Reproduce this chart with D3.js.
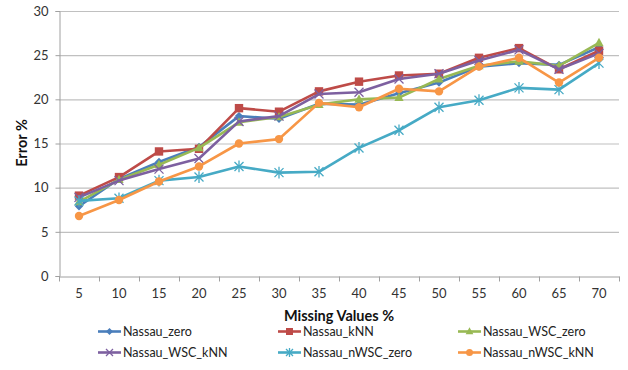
<!DOCTYPE html>
<html><head><meta charset="utf-8">
<script src="https://cdn.jsdelivr.net/npm/d3@7"></script>
<style>body{margin:0;background:#fff}svg{display:block}text{font-family:Lato,"Liberation Sans",sans-serif}</style>
</head><body><svg id="c" width="628" height="370"></svg>
<script>
const categories = [5,10,15,20,25,30,35,40,45,50,55,60,65,70];
const yTicks = [0,5,10,15,20,25,30];
const seriesNames = ["Nassau_zero","Nassau_kNN","Nassau_WSC_zero","Nassau_WSC_kNN","Nassau_nWSC_zero","Nassau_nWSC_kNN"];
const nassauZero    = [7.9,11.0,12.9,14.6,18.1,17.8,19.5,19.4,20.7,21.9,23.7,24.1,23.9,25.9];
const nassauKNN     = [9.1,11.2,14.1,14.4,19.0,18.6,20.9,22.0,22.7,22.9,24.7,25.8,23.4,25.5];
const nassauWSCZero = [8.4,10.9,12.6,14.5,17.4,18.0,19.4,20.0,20.2,22.3,23.8,24.3,23.8,26.4];
const nassauWSCKNN  = [8.9,10.8,12.1,13.3,17.5,18.1,20.6,20.8,22.3,22.9,24.4,25.6,23.4,25.2];
const nassauNWSCZero= [8.5,8.8,10.8,11.2,12.4,11.7,11.8,14.5,16.5,19.1,19.9,21.3,21.1,24.1];
const nassauNWSCKNN = [6.8,8.6,10.7,12.4,15.0,15.5,19.6,19.1,21.2,20.9,23.7,24.7,21.9,24.7];
const seriesValues = [nassauZero,nassauKNN,nassauWSCZero,nassauWSCKNN,nassauNWSCZero,nassauNWSCKNN];
const colors = ["#4a7ebb","#be4b48","#98b954","#7d60a0","#46aac5","#f79646"];
const markerTypes = ["diamond","square","triangle","x","asterisk","circle"];

const svg = d3.select("#c");
const m = {l:59, r:619, t:11, b:276};
const x = d3.scaleBand().domain(categories).range([m.l, m.r]);
const y = d3.scaleLinear().domain([0,30]).range([m.b, m.t]);

// gridlines
svg.append("g").selectAll("line").data(yTicks.filter(d=>d>0)).join("line")
  .attr("x1",m.l).attr("x2",m.r).attr("y1",d=>y(d)+0.5).attr("y2",d=>y(d)+0.5)
  .attr("stroke","#c0c0c0").attr("stroke-width",1.2);

// y axis
const ya = svg.append("g").attr("transform",`translate(${m.l+0.5},0)`)
  .call(d3.axisLeft(y).tickValues(yTicks).tickSize(4).tickPadding(7));
ya.select(".domain").attr("stroke","#a0a0a0");
ya.selectAll(".tick line").attr("stroke","#a0a0a0");
ya.selectAll("text").attr("font-size",13).attr("fill","#333");

// x axis
const xa = svg.append("g").attr("transform",`translate(0,${m.b+0.5})`)
  .call(d3.axisBottom(x).tickSize(0).tickPadding(12));
xa.select(".domain").attr("stroke","#a0a0a0");
xa.selectAll("text").attr("font-size",13).attr("fill","#333");
xa.selectAll(".bt").data(d3.range(categories.length+1)).join("line")
  .attr("x1",i=>m.l+i*x.step()+0.5).attr("x2",i=>m.l+i*x.step()+0.5)
  .attr("y1",0).attr("y2",5).attr("stroke","#a0a0a0");

// titles
svg.append("text").attr("x",339).attr("y",321).attr("text-anchor","middle")
  .attr("font-size",14.5).attr("font-weight","bold").attr("fill","#111").text("Missing Values %");
svg.append("text").attr("transform","translate(27,143) rotate(-90)").attr("text-anchor","middle")
  .attr("font-size",14.5).attr("font-weight","bold").attr("fill","#111").text("Error %");

function marker(g, type, color, s){
  if(type==="diamond") g.append("path").attr("d",`M0,${-s}L${s},0L0,${s}L${-s},0Z`).attr("fill",color);
  else if(type==="square") g.append("rect").attr("x",-s).attr("y",-s).attr("width",2*s).attr("height",2*s).attr("fill",color);
  else if(type==="triangle") g.append("path").attr("d",`M0,${-s*1.2}L${s*1.1},${s*0.8}L${-s*1.1},${s*0.8}Z`).attr("fill",color);
  else if(type==="circle") g.append("circle").attr("r",s).attr("fill",color);
  else if(type==="x") g.append("path").attr("d",`M${-s},${-s}L${s},${s}M${-s},${s}L${s},${-s}`).attr("stroke",color).attr("stroke-width",1.3).attr("fill","none");
  else if(type==="asterisk") g.append("path").attr("d",`M${-s},${-s}L${s},${s}M${-s},${s}L${s},${-s}M0,${-s*1.3}L0,${s*1.3}`).attr("stroke",color).attr("stroke-width",1.3).attr("fill","none");
}

const line = d3.line().x((d,i)=>x(categories[i])+x.bandwidth()/2).y(d=>y(d));
seriesValues.forEach((vals,si)=>{
  const g = svg.append("g");
  g.append("path").attr("d",line(vals)).attr("fill","none").attr("stroke",colors[si]).attr("stroke-width",2.6).attr("stroke-linejoin","round");
  vals.forEach((v,i)=>{
    const mg = g.append("g").attr("transform",`translate(${x(categories[i])+x.bandwidth()/2},${y(v)})`);
    marker(mg, markerTypes[si], colors[si], markerTypes[si]==="x"||markerTypes[si]==="asterisk"?4.5:4.2);
  });
});

// legend
const legX = [98,278,458], legY = [331.5,352.5];
seriesNames.forEach((n,i)=>{
  const lx = legX[i%3], ly = legY[Math.floor(i/3)];
  const g = svg.append("g");
  g.append("line").attr("x1",lx).attr("x2",lx+23).attr("y1",ly).attr("y2",ly).attr("stroke",colors[i]).attr("stroke-width",2.6);
  const mg = g.append("g").attr("transform",`translate(${lx+11.5},${ly})`);
  marker(mg, markerTypes[i], colors[i], 3.5);
  g.append("text").attr("x",lx+25).attr("y",ly+4.5).attr("font-size",12.5).attr("fill","#222").text(n);
});
</script></body></html>
